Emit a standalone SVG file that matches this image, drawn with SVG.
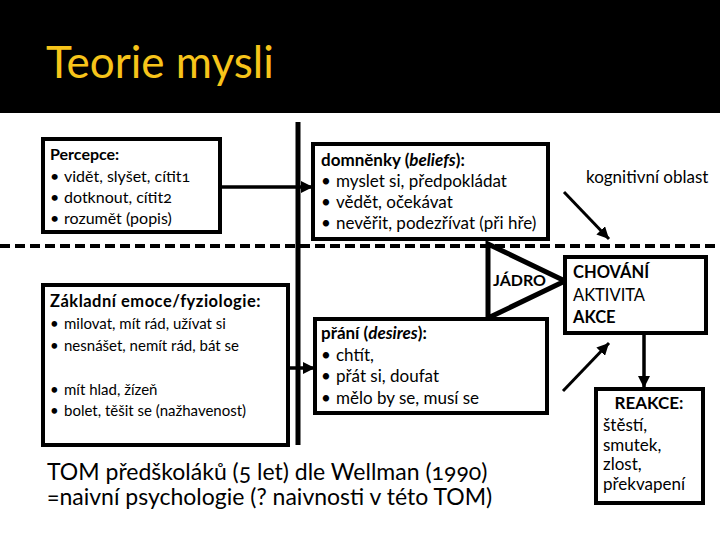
<svg xmlns="http://www.w3.org/2000/svg" width="720" height="540" viewBox="0 0 720 540">
<defs>
<marker id="ah" viewBox="0 0 10 10" refX="10" refY="5" markerWidth="12" markerHeight="12" markerUnits="userSpaceOnUse" orient="auto"><path d="M0,0 L10,5 L0,10 z" fill="#000"/></marker>
<style>
text{font-family:Lato,"Open Sans","Noto Sans",sans-serif;font-size:15px;fill:#000;font-variant-numeric:oldstyle-nums}
.b{font-weight:bold}
.i{font-style:italic;font-weight:bold}
.m{font-size:16px}
.l{font-size:17px}
.box{fill:#fff;stroke:#000;stroke-width:4}
.ln{stroke:#000;fill:none}
</style>
</defs>
<rect width="720" height="540" fill="#fff"/>
<g id="header">
<rect width="720" height="113" fill="#000"/>
<text x="46" y="78" style="font-size:44px;fill:#F7C41A">Teorie mysli</text>
</g>
<g id="connectors">
<line class="ln" x1="0" y1="246" x2="720" y2="246" stroke-width="4" stroke-dasharray="10 5"/>
<line class="ln" x1="298" y1="122" x2="298" y2="445" stroke-width="5"/>
<line class="ln" x1="220" y1="187" x2="313" y2="187" stroke-width="3.5" marker-end="url(#ah)"/>
<line class="ln" x1="288" y1="368" x2="315" y2="368" stroke-width="3.5" marker-end="url(#ah)"/>
<polygon class="ln" points="488,244 565,281 488,318" stroke-width="5" stroke-linejoin="miter"/>
<line class="ln" x1="564" y1="192" x2="609" y2="239" stroke-width="3" marker-end="url(#ah)"/>
<line class="ln" x1="563" y1="391" x2="609" y2="343" stroke-width="3" marker-end="url(#ah)"/>
<line class="ln" x1="644" y1="333" x2="644" y2="388" stroke-width="3.5" marker-end="url(#ah)"/>
</g>
<g id="percepce" class="m">
<rect class="box" x="43" y="139" width="177" height="93"/>
<text x="50" y="160" class="b m">Percepce:</text>
<text y="182" class="m"><tspan x="50">•</tspan><tspan x="64">vidět, slyšet, cítit1</tspan></text>
<text y="203" class="m"><tspan x="50">•</tspan><tspan x="64">dotknout, cítit2</tspan></text>
<text y="224" class="m"><tspan x="50">•</tspan><tspan x="64">rozumět (popis)</tspan></text>
</g>
<g id="domnenky">
<rect class="box" x="313" y="144" width="235" height="95"/>
<text x="321" y="166" class="l"><tspan class="b">domněnky (</tspan><tspan class="i">beliefs</tspan><tspan class="b">):</tspan></text>
<text y="187" class="l"><tspan x="321">•</tspan><tspan x="336">myslet si, předpokládat</tspan></text>
<text y="208" class="l"><tspan x="321">•</tspan><tspan x="336">vědět, očekávat</tspan></text>
<text y="229" class="l"><tspan x="321">•</tspan><tspan x="336">nevěřit, podezřívat (při hře)</tspan></text>
</g>
<g id="zakladni">
<rect class="box" x="43" y="285" width="245" height="160"/>
<text x="50" y="307" class="b" style="font-size:16.5px;letter-spacing:0.5px">Základní emoce/fyziologie:</text>
<text y="329"><tspan x="50">•</tspan><tspan x="64">milovat, mít rád, užívat si</tspan></text>
<text y="351"><tspan x="50">•</tspan><tspan x="64">nesnášet, nemít rád, bát se</tspan></text>
<text y="395"><tspan x="50">•</tspan><tspan x="64">mít hlad, žízeň</tspan></text>
<text y="416"><tspan x="50">•</tspan><tspan x="64">bolet, těšit se (nažhavenost)</tspan></text>
</g>
<g id="prani">
<rect class="box" x="315" y="319" width="232" height="94"/>
<text x="321" y="339" class="l"><tspan class="b">přání (</tspan><tspan class="i">desires</tspan><tspan class="b">):</tspan></text>
<text y="361" class="l"><tspan x="321">•</tspan><tspan x="336">chtít,</tspan></text>
<text y="382" class="l"><tspan x="321">•</tspan><tspan x="336">přát si, doufat</tspan></text>
<text y="404" class="l"><tspan x="321">•</tspan><tspan x="336">mělo by se, musí se</tspan></text>
</g>
<g id="jadro">
<text x="493" y="286" class="b m">JÁDRO</text>
</g>
<g id="chovani">
<rect class="box" x="565" y="257" width="141" height="76"/>
<text x="573" y="278" class="b" style="font-size:16.5px">CHOVÁNÍ</text>
<text x="573" y="301" style="font-size:16.5px">AKTIVITA</text>
<text x="573" y="323" class="b" style="font-size:16.5px">AKCE</text>
</g>
<g id="kognitivni">
<text x="586" y="183" class="l">kognitivní oblast</text>
</g>
<g id="reakce">
<rect class="box" x="596" y="389" width="107" height="114"/>
<text x="649" y="409" class="b l" text-anchor="middle">REAKCE:</text>
<text x="603" y="431" class="l">štěstí,</text>
<text x="603" y="451" class="l">smutek,</text>
<text x="603" y="470" class="l">zlost,</text>
<text x="603" y="490" class="l">překvapení</text>
</g>
<g id="tom">
<text style="font-size:23px"><tspan x="47" y="480">TOM předškoláků (5 let) dle Wellman (1990)</tspan><tspan x="47" y="505">=naivní psychologie (? naivnosti v této TOM)</tspan></text>
</g>
</svg>
